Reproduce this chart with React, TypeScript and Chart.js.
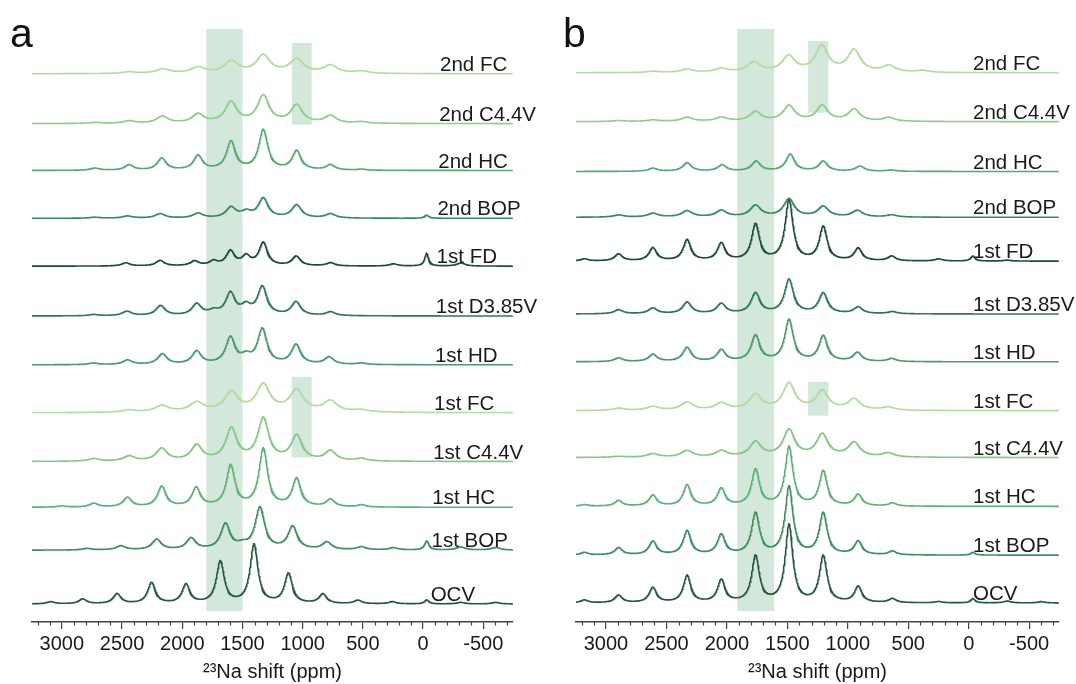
import React, { useEffect, useRef } from 'react';
import { Chart, registerables } from 'chart.js';

Chart.register(...registerables);

// ---------- data ----------
const TICK_VALUES = [3000, 2500, 2000, 1500, 1000, 500, 0, -500];
const MINOR_TICKS = [3200, 3100, 2900, 2800, 2700, 2600, 2400, 2300, 2200, 2100, 1900, 1800, 1700, 1600, 1400, 1300, 1200, 1100, 900, 800, 700, 600, 400, 300, 200, 100, -100, -200, -300, -400, -600, -700];
const PPM_MIN = -747;
const PPM_MAX = 3248;
const X_TITLE = '\u00B2\u00B3Na shift (ppm)';

const SPECTRUM_LABELS = ['2nd FC', '2nd C4.4V', '2nd HC', '2nd BOP', '1st FD', '1st D3.85V', '1st HD', '1st FC', '1st C4.4V', '1st HC', '1st BOP', 'OCV'];

// peaks: [shift ppm, height, optional FWHM ppm]
// panel a
const A_2ND_FC = [[2441, 1.7], [2160, 4.5], [1869, 6], [1592, 12], [1327, 18], [1050, 14], [769, 8], [512, 2.3]];
const A_2ND_C44 = [[2726, 1], [2441, 2.5], [2165, 7], [1869, 9], [1595, 21], [1327, 27.5], [1050, 18], [769, 7.5], [512, 1.5]];
const A_2ND_HC = [[2726, 2.2], [2441, 5.3], [2170, 12], [1869, 14.5], [1595, 28.5], [1327, 40], [1050, 19], [769, 5.3], [512, 1]];
const A_2ND_BOP = [[2726, 1], [2455, 2.2], [2184, 4.5], [1869, 4.8], [1595, 10.5], [1469, 5.5], [1327, 19.5], [1050, 13], [769, 4.3], [-30, 3, 45]];
const A_1ST_FD = [[2469, 3.2], [2184, 5.5], [1898, 4.8], [1741, 4.5], [1600, 14.5], [1469, 9], [1327, 23], [1053, 9.5], [769, 3.2], [245, 2.2], [-30, 12.5, 40], [-315, 3.2]];
const A_1ST_D385 = [[2735, 1.3], [2460, 4.5], [2180, 10], [1880, 11.5], [1740, 4], [1600, 22], [1470, 8.5], [1335, 28.5], [1055, 13.5], [769, 3.8]];
const A_1ST_HD = [[2740, 1.6], [2455, 4.5], [2165, 10.5], [1880, 13], [1600, 26.5], [1470, 6.5], [1335, 35], [1055, 19.5], [780, 7.2], [512, 1.5]];
const A_1ST_FC = [[2441, 2.2], [2170, 6.5], [1880, 9.5], [1592, 19.5], [1327, 27], [1050, 21.5], [769, 11], [512, 2.2]];
const A_1ST_C44 = [[2735, 2.6], [2441, 5], [2170, 12.5], [1880, 15.5], [1592, 32], [1327, 42], [1050, 25], [769, 10], [512, 2.6]];
const A_1ST_HC = [[3000, 1.3], [2735, 3.8], [2455, 9.5], [2170, 20.5], [1884, 19], [1598, 41], [1327, 58], [1050, 28], [769, 7.6], [512, 2.2]];
const A_1ST_BOP = [[2790, 1.6], [2511, 4.1], [2212, 10.5], [1926, 11.5], [1641, 25.5], [1500, 3.5], [1355, 42], [1083, 23], [798, 7.6], [512, 3.1], [245, 2.2], [-31, 9, 45], [-313, 3.1], [-603, 2.6]];
const A_OCV = [[3092, 2.2], [2827, 4.8], [2541, 10], [2255, 21], [1969, 19], [1684, 42], [1404, 59], [1118, 30], [832, 9.5], [541, 3.5], [255, 2.2], [-31, 4, 45], [-313, 1.6], [-603, 1.6]];

// panel b
const B_2ND_FC = [[2612, 1.3], [2329, 3.2], [2046, 3.8], [1777, 10], [1489, 16], [1215, 26], [948, 22], [659, 6.5], [382, 1.9]];
const B_2ND_C44 = [[2896, 1], [2612, 1.6], [2329, 4.1], [2046, 4.1], [1763, 9.5], [1486, 15.5], [1211, 15.5], [948, 12], [659, 3.8]];
const B_2ND_HC = [[2612, 3.2], [2329, 8.5], [2040, 6.3], [1758, 10], [1476, 17], [1203, 10], [899, 5.2], [640, 1.4]];
const B_2ND_BOP = [[2896, 2.2], [2612, 3.8], [2329, 6.2], [2046, 6.6], [1763, 11.5], [1486, 18], [1203, 10.5], [920, 6.6], [637, 2.2]];
const B_1ST_FD = [[3179, 2.2], [2896, 7], [2612, 13], [2329, 21], [2046, 17.5], [1763, 36.5], [1486, 60.5], [1203, 34], [914, 12.5], [637, 4.8], [248, 2.2], [-35, 5, 45], [-318, 1]];
const B_1ST_D385 = [[2896, 4.1], [2612, 5.7], [2329, 11.5], [2046, 10], [1763, 20.5], [1486, 34], [1203, 20.5], [914, 6.6], [631, 2.2]];
const B_1ST_HD = [[2896, 3.8], [2612, 7.2], [2329, 14], [2046, 11.5], [1763, 26], [1486, 41.5], [1203, 25.5], [920, 9], [637, 3.1]];
const B_1ST_FC = [[2896, 2.2], [2612, 3.8], [2329, 8], [2046, 7], [1763, 15.5], [1486, 26.5], [1211, 19], [948, 11], [665, 3.1]];
const B_1ST_C44 = [[2896, 1], [2612, 3.5], [2329, 6.6], [2046, 6.2], [1763, 15], [1486, 27], [1211, 22.5], [948, 14.5], [665, 4.1]];
const B_1ST_HC = [[3179, 1.6], [2896, 5.7], [2612, 11], [2329, 21], [2046, 17.5], [1763, 36.5], [1486, 59], [1203, 35], [914, 11.5], [631, 3.1]];
const B_1ST_BOP = [[3179, 2.6], [2896, 7.2], [2612, 13.5], [2329, 24], [2046, 20], [1763, 41.5], [1486, 68], [1203, 41.5], [914, 13.5], [631, 3.8], [-35, 2.7, 45]];
const B_OCV = [[3179, 2.9], [2896, 7.6], [2612, 15], [2329, 27], [2046, 22.5], [1763, 46.5], [1486, 77.5], [1203, 46.5], [914, 16], [631, 4.1], [248, 1.3], [-35, 4.3, 45], [-318, 1.9], [-601, 1.3]];

// line widths (FWHM, ppm) per spectrum
const A_WIDTHS = [140, 118, 90, 100, 85, 95, 95, 140, 112, 86, 95, 78];
const B_WIDTHS = [130, 118, 90, 110, 78, 90, 86, 125, 118, 78, 78, 75];

// vertical offsets of the stacked spectra (y units)
const A_OFFSETS = [550, 500, 453, 405, 357, 307, 258, 210, 161, 115, 72, 18];
const B_OFFSETS = [551, 502, 452, 406, 362, 309, 261, 212, 165, 116, 67, 19];

// highlighted regions: [ppm from, ppm to, y from, y to]
const A_RECTS = [[1800, 1500, 11, 595], [1090, 925, 499, 581], [1090, 925, 165, 246]];
const B_RECTS = [[1915, 1610, 11, 595], [1328, 1160, 511, 583], [1328, 1160, 207, 241]];

const COLORS = ['#b3dba2', '#8fcd8f', '#58a872', '#3b8a5c', '#1e4c37', '#337752', '#4c9a68', '#b3dba2', '#86c789', '#5fb077', '#408d5f', '#27573f'];
const SHADE = 'rgba(150, 200, 168, 0.42)';
const FONT = "'Liberation Sans', Arial, Helvetica, sans-serif";

const A_SPECTRA = [A_2ND_FC, A_2ND_C44, A_2ND_HC, A_2ND_BOP, A_1ST_FD, A_1ST_D385, A_1ST_HD, A_1ST_FC, A_1ST_C44, A_1ST_HC, A_1ST_BOP, A_OCV];
const B_SPECTRA = [B_2ND_FC, B_2ND_C44, B_2ND_HC, B_2ND_BOP, B_1ST_FD, B_1ST_D385, B_1ST_HD, B_1ST_FC, B_1ST_C44, B_1ST_HC, B_1ST_BOP, B_OCV];

function buildLine(peaks: number[][], fwhm: number, offset: number) {
  const pts: { x: number; y: number }[] = [];
  for (let ppm = PPM_MAX; ppm >= PPM_MIN; ppm -= 3) {
    let v = 0;
    for (const p of peaks) {
      const g = (p[2] ?? fwhm) / 2;
      const d = ppm - p[0];
      v += (p[1] * g * g) / (d * d + g * g);
    }
    pts.push({ x: ppm, y: offset + v });
  }
  return pts;
}

type PanelCfg = {
  spectra: number[][][];
  widths: number[];
  offsets: number[];
  rects: number[][];
  letter: string;
  letterX: number;
  labelX: (i: number) => number;
  padLeft: number;
  padRight: number;
  width: number;
};

const overlay = {
  id: 'overlay',
  beforeDatasetsDraw(chart: any, _a: any, opts: any) {
    const { ctx, scales } = chart;
    const x = scales.x, y = scales.y;
    ctx.save();
    ctx.fillStyle = SHADE;
    for (const r of opts.rects) {
      const x1 = x.getPixelForValue(r[0]);
      const x2 = x.getPixelForValue(r[1]);
      const y1 = y.getPixelForValue(r[2]);
      const y2 = y.getPixelForValue(r[3]);
      ctx.fillRect(Math.min(x1, x2), Math.min(y1, y2), Math.abs(x2 - x1), Math.abs(y2 - y1));
    }
    ctx.restore();
  },
  afterDraw(chart: any, _a: any, opts: any) {
    const { ctx, scales, chartArea } = chart;
    const x = scales.x, y = scales.y;
    ctx.save();
    // minor ticks
    ctx.strokeStyle = '#444';
    ctx.lineWidth = 1.2;
    ctx.beginPath();
    for (const v of MINOR_TICKS) {
      const px = Math.round(x.getPixelForValue(v)) + 0.5;
      ctx.moveTo(px, chartArea.bottom);
      ctx.lineTo(px, chartArea.bottom + 3.5);
    }
    ctx.stroke();
    // spectrum labels
    ctx.fillStyle = '#1a1a1a';
    ctx.font = `20.5px ${FONT}`;
    ctx.textAlign = 'left';
    ctx.textBaseline = 'alphabetic';
    SPECTRUM_LABELS.forEach((t, i) => {
      ctx.fillText(t, opts.labelX(i), y.getPixelForValue(opts.offsets[i]) - 3);
    });
    // panel letter
    ctx.font = `41px ${FONT}`;
    ctx.fillStyle = '#111';
    ctx.fillText(opts.letter, opts.letterX, 47);
    ctx.restore();
  },
};

function Panel({ cfg, left }: { cfg: PanelCfg; left: number }) {
  const ref = useRef<HTMLCanvasElement | null>(null);
  useEffect(() => {
    if (!ref.current) return;
    const datasets = cfg.spectra.map((peaks, i) => ({
      label: SPECTRUM_LABELS[i],
      data: buildLine(peaks, cfg.widths[i], cfg.offsets[i]),
      borderColor: COLORS[i],
      borderWidth: 1.6,
      pointRadius: 0,
      fill: false,
      tension: 0,
    }));
    const chart = new Chart(ref.current, {
      type: 'line',
      data: { datasets },
      options: {
        animation: false,
        responsive: false,
        maintainAspectRatio: false,
        parsing: false,
        normalized: true,
        events: [],
        layout: { padding: { left: cfg.padLeft, right: cfg.padRight, top: 24, bottom: 0 } },
        plugins: {
          legend: { display: false },
          tooltip: { enabled: false },
          overlay: { rects: cfg.rects, offsets: cfg.offsets, letter: cfg.letter, letterX: cfg.letterX, labelX: cfg.labelX },
        } as any,
        scales: {
          x: {
            type: 'linear',
            min: PPM_MIN,
            max: PPM_MAX,
            reverse: true,
            afterBuildTicks: (s: any) => {
              s.ticks = TICK_VALUES.map((v) => ({ value: v }));
            },
            ticks: {
              autoSkip: false,
              maxRotation: 0,
              padding: 3,
              color: '#1a1a1a',
              font: { family: FONT, size: 20 },
              callback: (v: any) => String(v),
            },
            grid: { display: true, drawOnChartArea: false, drawTicks: true, tickLength: 7, color: '#444', lineWidth: 1.2 },
            border: { display: true, color: '#444', width: 1.5 },
            title: { display: true, text: X_TITLE, color: '#1a1a1a', font: { family: FONT, size: 20 }, padding: { top: 1, bottom: 0 } },
          },
          y: { type: 'linear', display: false, min: 0, max: 600 },
        },
      },
      plugins: [overlay],
    } as any);
    return () => chart.destroy();
  }, [cfg]);
  return (
    <canvas ref={ref} width={cfg.width} height={684} style={{ position: 'absolute', left, top: 0, width: cfg.width, height: 684 }} />
  );
}

const PANEL_A: PanelCfg = {
  spectra: A_SPECTRA,
  widths: A_WIDTHS,
  offsets: A_OFFSETS,
  rects: A_RECTS,
  letter: 'a',
  letterX: 10,
  labelX: (i: number) => 440 - i * 0.85,
  padLeft: 32,
  padRight: 47,
  width: 560,
};

const PANEL_B: PanelCfg = {
  spectra: B_SPECTRA,
  widths: B_WIDTHS,
  offsets: B_OFFSETS,
  rects: B_RECTS,
  letter: 'b',
  letterX: 25,
  labelX: () => 435,
  padLeft: 38,
  padRight: 17,
  width: 538,
};

export default function App() {
  return (
    <div style={{ position: 'fixed', left: 0, top: 0, width: 1076, height: 684, background: '#ffffff', overflow: 'hidden' }}>
      <Panel cfg={PANEL_A} left={0} />
      <Panel cfg={PANEL_B} left={538} />
    </div>
  );
}
